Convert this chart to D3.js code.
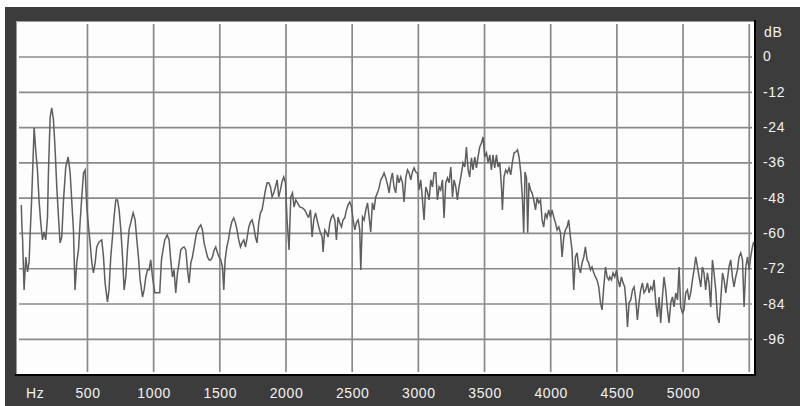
<!DOCTYPE html>
<html>
<head>
<meta charset="utf-8">
<script src="https://cdn.jsdelivr.net/npm/d3@7"></script>
<style>
  body { margin: 0; background: #ffffff; }
  .lbl { font-family: "Liberation Sans", Arial, sans-serif; font-size: 14px; fill: #f2f2f2; letter-spacing: 0.6px; }
</style>
</head>
<body>
<div id="chart"></div>
<script>
// spectrum: frequency (Hz) and level (dB)
var freqHz = [0,5,10,21,34,47,59,66,79,97,110,122,134,147,160,172,185,198,205,218,230,243,255,268,281,293,306,319,336,354,369,382,394,406,419,432,444,457,470,482,495,508,520,533,545,558,570,588,608,621,633,651,663,676,689,701,714,727,739,752,765,777,790,802,814,827,845,860,873,885,898,916,928,941,953,966,978,991,
  1009,1046,1059,1071,1084,1102,1117,1129,1142,1154,1167,1180,1192,1205,1218,1230,1243,1256,1268,1281,1293,1306,1324,1341,1356,1369,1381,1394,1407,1419,1432,1444,1457,1469,1482,1494,1507,1520,1530,1540,1553,1565,1577,1590,1605,1618,1630,1643,1656,1668,1681,1694,1706,1719,1732,1744,1757,1769,1781,1794,1807,1819,1832,1845,1857,1870,1883,1895,1908,1920,1933,1945,1958,1970,1983,1996,
  2008,2023,2036,2049,2061,2074,2087,2104,2124,2142,2167,2172,2185,2197,2210,2223,2235,2248,2260,2273,2280,2293,2306,2318,2331,2344,2356,2369,2381,2393,2406,2419,2431,2444,2457,2469,2482,2495,2507,2520,2532,2545,2557,2565,2578,2590,2603,2616,2628,2640,2653,2665,2678,2691,2703,2716,2729,2741,2754,2767,2779,2792,2804,2816,2829,2842,2854,2867,2880,2892,2905,2918,2930,2943,2955,2968,2980,2993,
  3005,3018,3031,3043,3056,3069,3081,3094,3107,3119,3132,3144,3157,3169,3182,3194,3207,3220,3232,3245,3258,3270,3283,3295,3307,3313,3326,3338,3351,3363,3376,3388,3401,3413,3426,3439,3451,3464,3477,3489,3502,3515,3527,3540,3552,3564,3577,3590,3602,3615,3628,3635,3647,3660,3673,3685,3698,3711,3723,3736,3749,3761,3774,3787,3796,3806,3817,3826,3836,3847,3859,3872,3885,3897,3910,3923,3935,3947,3960,3972,3985,3998,
  4010,4023,4036,4048,4061,4074,4086,4099,4111,4124,4136,4149,4161,4174,4187,4199,4212,4225,4237,4250,4262,4275,4287,4300,4312,4325,4338,4350,4363,4376,4388,4401,4414,4426,4439,4446,4459,4471,4484,4497,4509,4522,4534,4547,4559,4572,4580,4592,4605,4618,4630,4643,4655,4667,4680,4693,4705,4718,4731,4743,4756,4769,4781,4794,4806,4819,4831,4844,4856,4869,4882,4894,4907,4920,4932,4945,4958,4970,4982,4995,
  5007,5020,5033,5045,5058,5071,5083,5096,5109,5121,5134,5146,5158,5171,5184,5196,5209,5222,5234,5247,5260,5272,5285,5298,5310,5323,5335,5347,5360,5373,5385,5398,5411,5423,5436,5449,5461,5474,5487,5499,5511,5524,5534];

var levelDb = [-50.3,-57.8,-62.2,-79.2,-68.0,-73.1,-69.7,-61.2,-47.6,-24.1,-32.3,-38.4,-48.6,-56.4,-62.2,-59.5,-62.2,-54.4,-39.4,-20.4,-17.3,-21.4,-30.9,-44.2,-54.4,-63.2,-61.2,-48.6,-37.4,-34.0,-39.4,-49.6,-58.8,-79.2,-70.0,-65.6,-56.4,-47.6,-39.4,-38.4,-51.0,-57.8,-63.2,-70.0,-73.4,-70.0,-64.6,-62.9,-62.2,-68.0,-76.8,-83.3,-79.2,-68.0,-61.2,-54.4,-48.6,-48.6,-52.0,-58.8,-68.0,-79.2,-74.8,-65.6,-58.8,-56.4,-53.0,-55.4,-62.2,-68.0,-75.8,-81.6,-79.2,-74.8,-72.4,-72.4,-69.0,-74.8,
  -80.2,-80.2,-69.0,-65.6,-62.2,-60.5,-62.2,-69.0,-74.8,-72.4,-80.2,-73.4,-70.0,-65.6,-64.9,-64.6,-65.6,-72.4,-76.8,-70.0,-68.0,-64.6,-59.8,-58.1,-57.1,-58.8,-63.2,-65.6,-68.0,-69.0,-69.0,-68.0,-65.6,-64.6,-66.6,-68.0,-69.0,-71.4,-79.2,-69.0,-64.6,-62.2,-58.8,-56.1,-54.7,-56.4,-58.8,-62.2,-64.6,-63.2,-62.2,-64.6,-61.5,-57.8,-56.1,-55.4,-57.8,-61.2,-63.2,-56.4,-53.0,-52.0,-48.6,-45.2,-42.8,-42.8,-44.2,-47.6,-46.2,-44.2,-41.8,-47.6,-45.2,-42.5,-40.8,-42.8,
  -55.4,-65.6,-47.6,-46.2,-51.0,-48.6,-49.6,-51.0,-51.3,-52.0,-54.4,-54.4,-52.0,-61.2,-55.4,-53.0,-55.4,-57.8,-59.8,-61.2,-66.3,-58.8,-59.8,-61.2,-56.4,-54.4,-53.7,-55.4,-62.2,-54.4,-56.4,-57.8,-55.4,-54.7,-52.0,-50.3,-49.3,-51.0,-55.4,-58.8,-56.4,-55.4,-58.8,-72.4,-54.4,-55.4,-52.0,-49.6,-54.4,-59.5,-49.6,-52.0,-47.6,-46.2,-44.5,-41.8,-40.8,-39.4,-41.1,-43.5,-46.2,-41.8,-39.4,-44.2,-46.2,-40.1,-42.8,-40.8,-42.8,-49.3,-41.1,-38.4,-39.4,-41.8,-39.1,-37.7,-39.1,-39.4,
  -45.2,-41.8,-48.6,-55.4,-44.2,-45.9,-48.6,-41.8,-44.2,-39.4,-39.4,-48.6,-44.2,-45.2,-41.8,-54.7,-42.8,-41.1,-42.8,-37.4,-47.6,-41.8,-44.2,-48.6,-44.2,-42.8,-39.4,-36.0,-37.4,-30.6,-38.4,-40.8,-34.3,-38.4,-34.0,-37.7,-34.0,-30.6,-29.2,-27.2,-34.0,-32.6,-36.0,-33.3,-38.4,-33.3,-37.7,-33.3,-37.4,-35.7,-44.2,-52.0,-40.8,-38.4,-39.4,-37.7,-40.1,-35.7,-32.6,-32.3,-31.6,-34.0,-39.4,-48.6,-59.8,-39.1,-41.1,-59.8,-42.8,-45.2,-46.2,-48.6,-52.0,-47.9,-49.6,-48.6,-55.4,-57.8,-53.0,-54.7,-52.0,-54.4,
  -52.0,-54.4,-56.4,-58.8,-57.8,-59.8,-68.0,-61.2,-58.8,-57.8,-55.4,-61.2,-65.6,-79.2,-68.0,-66.6,-71.4,-73.4,-70.0,-68.0,-64.6,-69.0,-70.0,-72.4,-71.4,-73.4,-74.8,-75.8,-78.2,-83.6,-86.0,-78.2,-71.4,-74.8,-75.8,-74.8,-75.8,-73.4,-74.8,-72.4,-75.8,-78.2,-74.8,-76.8,-78.2,-85.0,-91.8,-83.6,-82.6,-79.2,-78.2,-82.6,-89.4,-83.6,-79.2,-76.8,-80.2,-79.2,-76.8,-80.2,-78.2,-79.2,-75.8,-83.6,-88.4,-81.6,-90.4,-81.6,-74.8,-79.2,-86.0,-90.4,-83.6,-81.6,-85.0,-80.2,-82.6,-71.4,-85.0,-87.0,
  -86.0,-80.2,-79.2,-82.6,-80.2,-75.8,-72.4,-68.0,-71.4,-74.8,-78.2,-71.4,-73.4,-79.2,-73.4,-76.8,-85.0,-69.0,-73.4,-79.2,-88.4,-90.4,-82.6,-73.4,-75.8,-80.2,-75.8,-71.4,-69.0,-74.8,-78.2,-74.8,-72.4,-68.0,-66.6,-69.0,-85.0,-71.4,-68.0,-72.4,-68.0,-64.6,-62.9];

var hzTicks = [500,1000,1500,2000,2500,3000,3500,4000,4500,5000,5500];
var hzLabels = [500,1000,1500,2000,2500,3000,3500,4000,4500,5000];
var dbTicks = [0,-12,-24,-36,-48,-60,-72,-84,-96];

var width = 800, height = 406;
var plot = {left: 16, top: 21, right: 754, bottom: 374};

var svg = d3.select("#chart").append("svg")
    .attr("width", width)
    .attr("height", height);

// dark panel
svg.append("rect")
    .attr("x", 5).attr("y", 7)
    .attr("width", width - 5).attr("height", height - 7)
    .style("fill", "#3c3c3c");

var x = d3.scaleLinear().domain([-40, 5536]).range([plot.left, plot.right]);
var y = d3.scaleLinear().domain([12, -108]).range([21.7, 374.6]);

svg.append("rect")
    .attr("x", plot.left).attr("y", plot.top)
    .attr("width", plot.right - plot.left).attr("height", plot.bottom - plot.top)
    .style("fill", "#fdfdfd");

// grid
svg.selectAll("line.vgrid").data(hzTicks).enter().append("line")
    .attr("class", "vgrid")
    .attr("x1", function (d) { return x(d) }).attr("x2", function (d) { return x(d) })
    .attr("y1", plot.top + 3).attr("y2", plot.bottom - 2)
    .style("stroke", "#8a8a8a").style("stroke-width", 1.7);

svg.selectAll("line.hgrid").data(dbTicks).enter().append("line")
    .attr("class", "hgrid")
    .attr("x1", plot.left + 3).attr("x2", plot.right - 2)
    .attr("y1", function (d) { return y(d) }).attr("y2", function (d) { return y(d) })
    .style("stroke", "#8a8a8a").style("stroke-width", 1.7);

// frame: grey top/left, black bottom/right
svg.append("path")
    .attr("d", "M" + (plot.left + 0.5) + "," + plot.bottom + "V" + (plot.top + 0.5) + "H" + plot.right)
    .style("fill", "none").style("stroke", "#9a9a9a").style("stroke-width", 1);
svg.append("path")
    .attr("d", "M" + (plot.left - 1) + "," + (plot.bottom + 1) + "H" + (plot.right + 1) + "V" + (plot.top - 1))
    .style("fill", "none").style("stroke", "#000000").style("stroke-width", 2);

// spectrum
var pts = freqHz.map(function (f, i) { return [f, levelDb[i]] });
var line = d3.line()
    .x(function (d) { return x(d[0]) })
    .y(function (d) { return y(d[1]) });

svg.append("path")
    .datum(pts)
    .attr("d", line)
    .style("fill", "none")
    .style("stroke", "#5e5e5e")
    .style("stroke-width", 1.5)
    .style("stroke-linejoin", "miter");

// right labels
svg.append("text").attr("class", "lbl")
    .attr("x", 764).attr("y", 32)
    .attr("dominant-baseline", "central")
    .text("dB");

svg.selectAll("text.db").data(dbTicks).enter().append("text")
    .attr("class", "lbl db")
    .attr("x", 763)
    .attr("y", function (d) { return y(d) - 0.5 })
    .attr("dominant-baseline", "central")
    .text(function (d) { return d });

// bottom labels
svg.append("text").attr("class", "lbl")
    .attr("x", 26).attr("y", 398)
    .text("Hz");

svg.selectAll("text.hz").data(hzLabels).enter().append("text")
    .attr("class", "lbl hz")
    .attr("x", function (d) { return x(d) + 0.5 })
    .attr("y", 398)
    .attr("text-anchor", "middle")
    .text(function (d) { return d });
</script>
</body>
</html>
